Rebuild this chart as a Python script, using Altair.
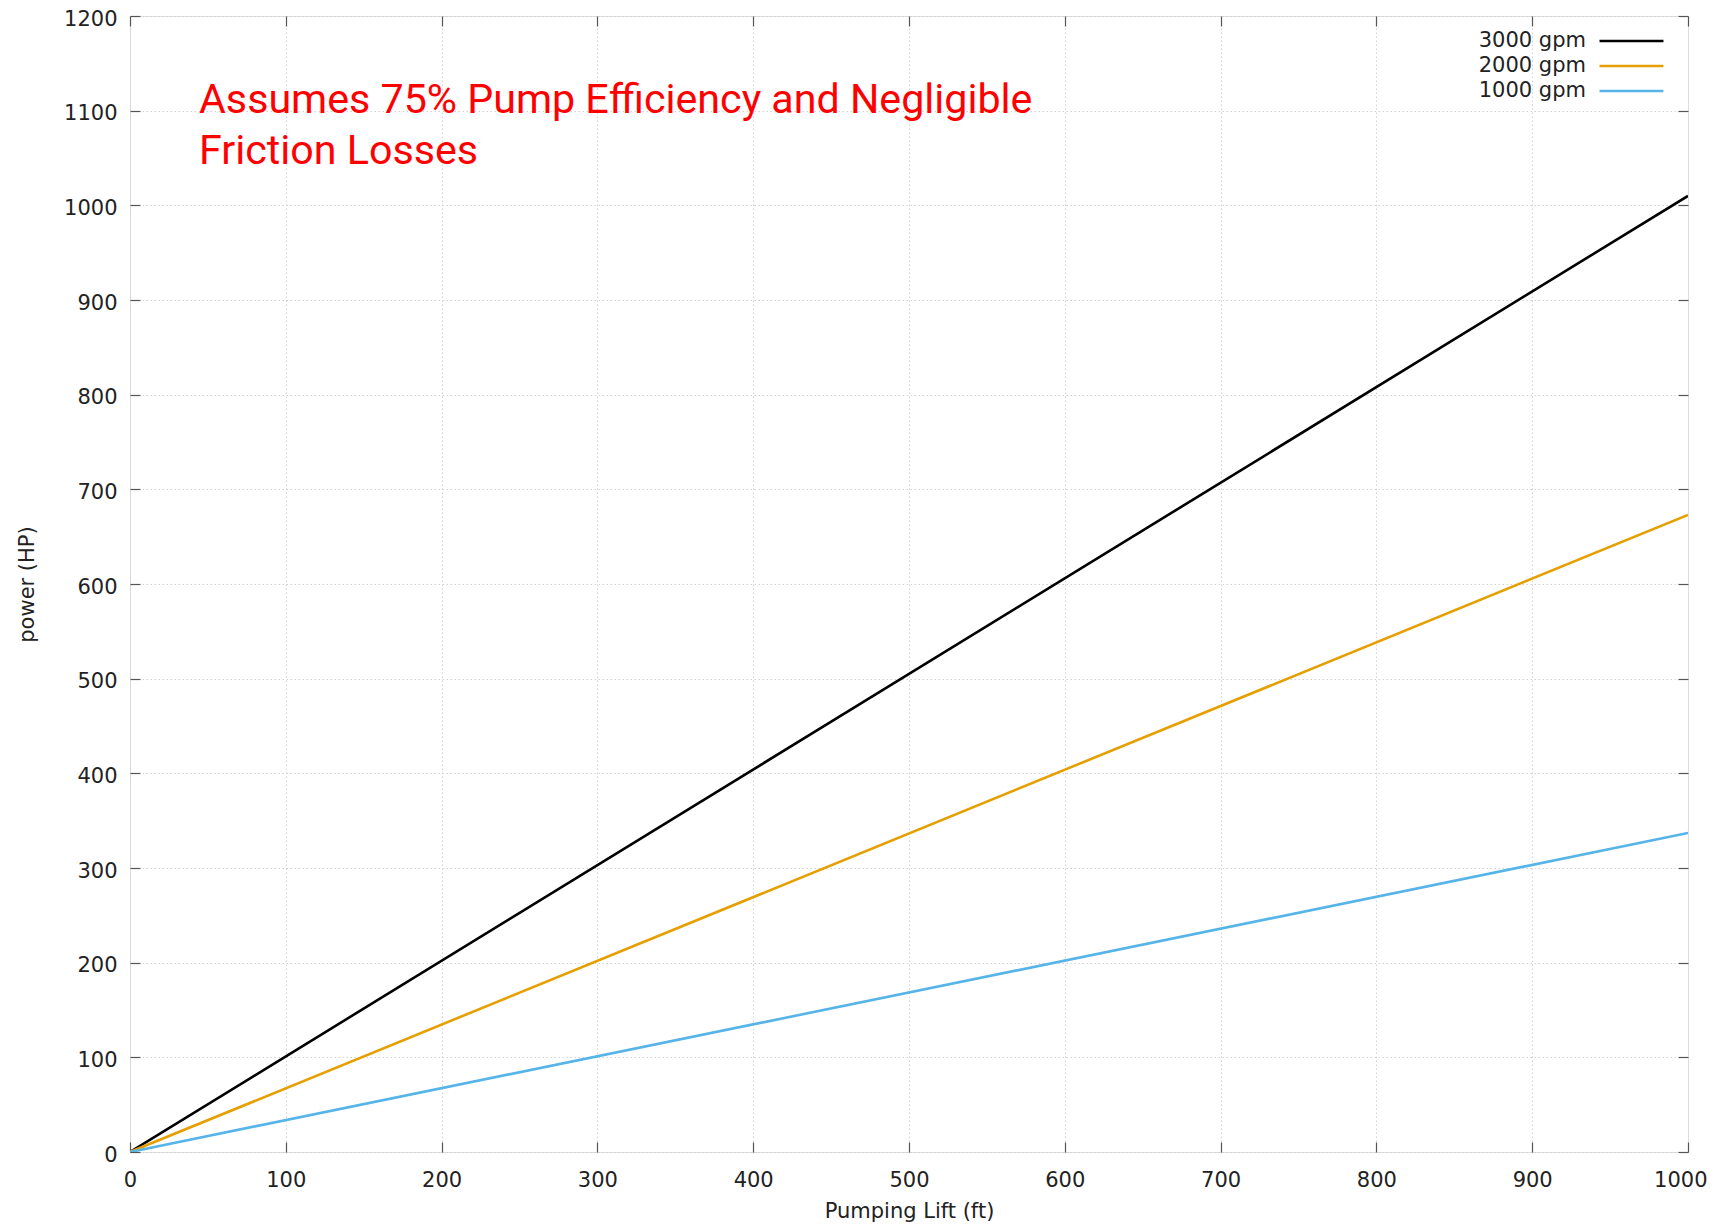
import altair as alt
import pandas as pd

# ---- data ----
lift_ft = [0, 1000]
series_names = ["3000 gpm", "2000 gpm", "1000 gpm"]
power_3000 = [0, 1010]
power_2000 = [0, 673]
power_1000 = [0, 337]
series_colors = ["#000000", "#E69F00", "#56B4E9"]
x_ticks = [0, 100, 200, 300, 400, 500, 600, 700, 800, 900, 1000]
y_ticks = [0, 100, 200, 300, 400, 500, 600, 700, 800, 900, 1000, 1100, 1200]
note_lines = ["Assumes 75% Pump Efficiency and Negligible", "Friction Losses"]

rows = []
for name, vals in zip(series_names, [power_3000, power_2000, power_1000]):
    for x, y in zip(lift_ft, vals):
        rows.append({"lift": x, "power": y, "series": name})
df = pd.DataFrame(rows)

FONT = "DejaVu Sans"
TXT = "#222222"
TICK = "#555555"
GRID = "#d2d2d2"

xs = alt.Scale(domain=[0, 1000], nice=False, zero=False)
ys = alt.Scale(domain=[0, 1200], nice=False, zero=False)

common_lab = dict(labelFont=FONT, labelFontSize=21, labelColor=TXT,
                  titleFont=FONT, titleFontSize=21, titleColor=TXT,
                  titleFontWeight="normal", format="d")

x_main = alt.Axis(orient="bottom", values=x_ticks[:-1], title="Pumping Lift (ft)",
                  grid=True, gridColor=GRID, gridDash=[1.5, 2.5], gridWidth=1,
                  ticks=False, tickSize=0, domain=False,
                  labelPadding=17, titlePadding=10, labelFlush=False,
                  **common_lab)
x_last = alt.Axis(orient="bottom", values=x_ticks[-1:], title=None,
                  grid=False, ticks=False, tickSize=0, domain=False,
                  labelPadding=17, labelFlush=True, labelFlushOffset=19,
                  **common_lab)
y_main = alt.Axis(orient="left", values=y_ticks, title="power (HP)",
                  grid=True, gridColor=GRID, gridDash=[1.5, 2.5], gridWidth=1,
                  ticks=False, tickSize=0, domain=False,
                  labelPadding=13, labelOffset=3, titlePadding=26, labelFlush=False,
                  **common_lab)

def tick_axis(orient, vals):
    return alt.Axis(orient=orient, values=vals, title=None, labels=False,
                    grid=False, domain=False, ticks=True, tickSize=10,
                    tickColor=TICK, tickWidth=1.2, offset=-10)

legend = alt.Legend(title=None, orient="none", legendX=1325, legendY=13,
                    symbolType="M12.62,0H18.71", symbolSize=441,
                    symbolStrokeWidth=2.5, labelAlign="right", labelOffset=107,
                    labelFont=FONT, labelFontSize=21, labelColor=TXT,
                    rowPadding=3, padding=0)

base = alt.Chart(df)

lines = base.mark_line(strokeWidth=2.6, clip=True).encode(
    x=alt.X("lift:Q", scale=xs, axis=x_main),
    y=alt.Y("power:Q", scale=ys, axis=y_main),
    color=alt.Color("series:N", sort=series_names,
                    scale=alt.Scale(domain=series_names, range=series_colors),
                    legend=legend),
    order=alt.Order("lift:Q"),
)

last_label = base.mark_point(opacity=0, size=0).encode(
    x=alt.X("lift:Q", scale=xs, axis=x_last),
)

ticks_bl = base.mark_point(opacity=0, size=0).encode(
    x=alt.X("lift:Q", scale=xs, axis=tick_axis("bottom", x_ticks)),
    y=alt.Y("power:Q", scale=ys, axis=tick_axis("left", y_ticks)),
)
ticks_tr = base.mark_point(opacity=0, size=0).encode(
    x=alt.X("lift:Q", scale=xs, axis=tick_axis("top", x_ticks)),
    y=alt.Y("power:Q", scale=ys, axis=tick_axis("right", y_ticks)),
)

note = alt.Chart(pd.DataFrame({"k": [0]})).mark_text(
    align="left", baseline="alphabetic", font="Roboto", fontSize=41.2,
    color="#ff0000", lineHeight=51,
).encode(x=alt.value(69), y=alt.value(97), text=alt.value(note_lines))

chart = alt.layer(lines, last_label, ticks_bl, ticks_tr, note).resolve_axis(
    x="independent", y="independent"
).properties(
    width=1558, height=1136,
    autosize=alt.AutoSizeParams(type="none"),
    padding={"left": 122, "top": 8, "right": 20, "bottom": 70},
).configure_view(stroke="#8c8c8c", strokeWidth=1.5).configure(background="white")

chart.save("out.html", embed_options={"renderer": "svg", "actions": False})
